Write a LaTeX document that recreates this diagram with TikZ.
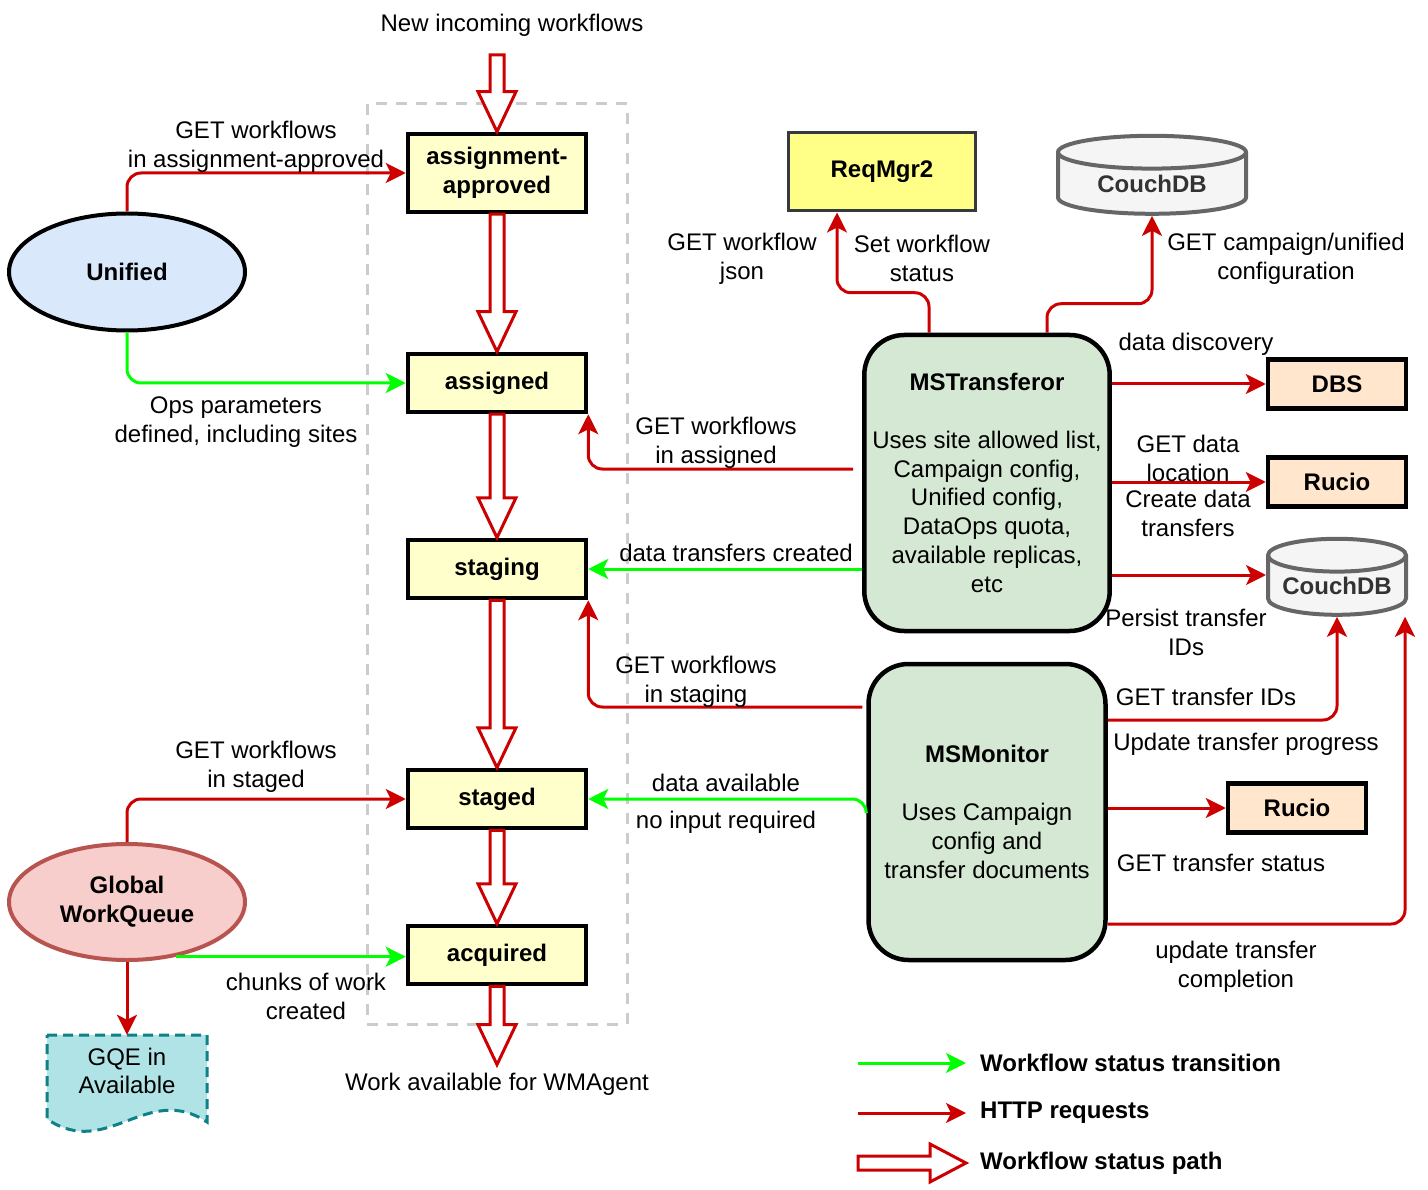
\documentclass[tikz,border=0pt]{standalone}
\usepackage{fontspec}
\setmainfont{Liberation Sans}
\usetikzlibrary{calc}
\usetikzlibrary{arrows.meta}
\usetikzlibrary{shapes.geometric}
\tikzset{>={Stealth[length=20pt,width=20pt,inset=5pt]}}

\definecolor{httpred}{HTML}{CC0000}
\definecolor{transgreen}{HTML}{00FF00}
\definecolor{stateyellow}{HTML}{FFFFCC}
\definecolor{reqyellow}{HTML}{FFFF88}
\definecolor{reqgray}{HTML}{36393D}
\definecolor{unifiedblue}{HTML}{DAE8FC}
\definecolor{gwqfill}{HTML}{F8CECC}
\definecolor{gwqdraw}{HTML}{B85450}
\definecolor{msgreen}{HTML}{D5E8D4}
\definecolor{servorange}{HTML}{FFE6CC}
\definecolor{couchfill}{HTML}{F5F5F5}
\definecolor{couchgray}{HTML}{666666}
\definecolor{couchtext}{HTML}{333333}
\definecolor{gqefill}{HTML}{B0E3E6}
\definecolor{gqedraw}{HTML}{0E8088}

\tikzstyle{state}=[draw,line width=4.5pt,fill=stateyellow,minimum width=178pt,minimum height=58pt,inner sep=0pt,align=center,font=\bfseries]
\tikzstyle{http}=[->,httpred,line width=3pt,rounded corners=14pt]
\tikzstyle{trans}=[->,transgreen,line width=3pt,rounded corners=14pt]
\tikzstyle{statuspath}=[httpred,line width=3pt,fill=white]
\tikzstyle{msbox}=[draw,line width=4.5pt,fill=msgreen,rounded corners=40pt,minimum width=237pt,minimum height=296pt,align=center]
\tikzstyle{service}=[draw,line width=4.5pt,fill=servorange,minimum width=138pt,minimum height=49pt,font=\bfseries]
\tikzstyle{couch}=[cylinder,shape border rotate=90,aspect=0.3,draw=couchgray,line width=4pt,fill=couchfill,text=couchtext,font=\bfseries,inner sep=0pt]
\tikzstyle{lbl}=[align=center,yshift=-2.5pt]
\tikzstyle{legend}=[anchor=west,font=\bfseries]

% fat status arrows, down and to the right
\newcommand{\statusdown}[2]{%
  \draw[statuspath] let \p1=(#1), \p2=(#2) in
    (\x1-7pt,\y1) -- (\x1-7pt,\y2+40pt) -- (\x1-19pt,\y2+40pt) -- (\x1,\y2)
    -- (\x1+19pt,\y2+40pt) -- (\x1+7pt,\y2+40pt) -- (\x1+7pt,\y1) -- cycle;}
\newcommand{\statusright}[2]{%
  \draw[statuspath] let \p1=(#1), \p2=(#2) in
    (\x1,\y1-7pt) -- (\x2-36pt,\y1-7pt) -- (\x2-36pt,\y1-19pt) -- (\x2,\y1)
    -- (\x2-36pt,\y1+19pt) -- (\x2-36pt,\y1+7pt) -- (\x1,\y1+7pt) -- cycle;}

\begin{document}
\fontsize{24}{28.8}\selectfont
\begin{tikzpicture}[x=1pt,y=-1pt]

  \useasboundingbox (0,0) rectangle (1428,1190);

  % workflow states
  \draw[gray!40,line width=3pt,dash pattern=on 11pt off 9pt]
    (367,104) rectangle (627,1024);
  \node[state,minimum height=78pt] (aa) at (497,173) {assignment-\\approved};
  \node[state] (as) at (497,383) {assigned};
  \node[state] (stg) at (497,569) {staging};
  \node[state] (std) at (497,799) {staged};
  \node[state] (acq) at (497,955) {acquired};

  \node[lbl] (incomingtext) at (512,23) {New incoming workflows};
  \node (wagent) at (497,1084) {Work available for WMAgent};
  \coordinate (incoming) at (497,55);

  % status path
  \statusdown{incoming}{aa.north}
  \statusdown{aa.south}{as.north}
  \statusdown{as.south}{stg.north}
  \statusdown{stg.south}{std.north}
  \statusdown{std.south}{acq.north}
  \statusdown{acq.south}{wagent.north}

  % Unified
  \node[ellipse,draw,line width=4pt,fill=unifiedblue,minimum width=236pt,minimum height=117pt,font=\bfseries]
    (un) at (127,272) {Unified};
  \draw[http] (un.north) |- (aa.west);
  \draw[trans] (un.south) |- (as.west);
  \node[lbl] (lblaa) at (256,144) {GET workflows\\in assignment-approved};
  \node[lbl] (lblops) at (236,420) {Ops parameters\\defined, including sites};

  % Global WorkQueue
  \node[ellipse,draw=gwqdraw,line width=4pt,fill=gwqfill,minimum width=236pt,minimum height=116pt,align=center,font=\bfseries]
    (gwq) at (127,902) {Global\\WorkQueue};
  \fill[gqefill] (47,1035) -- (207,1035) -- (207,1122)
    .. controls (147,1082) and (107,1160) .. (47,1119) -- cycle;
  \draw[gqedraw,line width=3pt,dash pattern=on 10pt off 6pt] (47,1035) -- (207,1035) -- (207,1122)
    .. controls (147,1082) and (107,1160) .. (47,1119) -- cycle;
  \node[align=center,minimum width=160pt,minimum height=72pt] (gqe) at (127,1071) {GQE in\\Available};
  \draw[http] (gwq.north) |- (std.west);
  \draw[trans] (gwq.-48) -- (gwq.-48 -| acq.west);
  \draw[http] (gwq.south) -- (gqe.north);
  \node[lbl] (lblstd) at (256,764) {GET workflows\\in staged};
  \node[lbl] (lblchunks) at (306,994) {chunks of work\\created};

  % MSTransferor
  \node[msbox] (mst) at (987,483)
    {\textbf{MSTransferor}\\ \\Uses site allowed list,\\Campaign config,\\Unified config,\\DataOps quota,\\available replicas,\\etc};
  \node[draw=reqgray,line width=3pt,fill=reqyellow,minimum width=187pt,minimum height=78pt,font=\bfseries]
    (rm) at (882,172) {ReqMgr2};
  \node[couch,minimum width=188pt,minimum height=78pt] (cdbtop) at (1152,184) {CouchDB};
  \node[service] (dbs) at (1337,384) {DBS};
  \node[service] (rutr) at (1337,482) {Rucio};
  \node[couch,minimum width=138pt,minimum height=76pt] (cdb) at (1337,586) {CouchDB};

  \draw[http] ([xshift=-58pt]mst.north) -- ++(0,-40) -| ([xshift=-45pt]rm.south);
  \draw[http] ([xshift=60pt]mst.north) -- ++(0,-29) -| (cdbtop.south);
  \draw[http] (dbs.west -| mst.east) -- (dbs.west);
  \draw[http] (rutr.west -| mst.east) -- (rutr.west);
  \draw[http] ([yshift=11pt]cdb.center -| mst.east) -- ([yshift=11pt]cdb.center -| cdb.west);
  \draw[http] ([xshift=-9pt,yshift=14pt]mst.west) -| (as.south east);
  \draw[trans] (stg.east -| mst.west) -- (stg.east);

  \node[lbl] (lbljson) at (742,256) {GET workflow\\json};
  \node[lbl] (lblset) at (922,256) {Set workflow\\status};
  \node[lbl] (lblcamp) at (1286,256) {GET campaign/unified\\configuration};
  \node[lbl] (lbldisc) at (1196,342) {data discovery};
  \node[lbl] (lblloc) at (1188,456) {GET data\\location};
  \node[lbl] (lblcreate) at (1188,511) {Create data\\transfers};
  \node[lbl] (lblpersist) at (1186,630) {Persist transfer\\IDs};
  \node[lbl] (lblasg) at (716,440) {GET workflows\\in assigned};
  \node[lbl] (lbltrcr) at (736,550) {data transfers created};

  % MSMonitor
  \node[msbox] (mon) at (987,812)
    {\textbf{MSMonitor}\\ \\Uses Campaign\\config and\\transfer documents};
  \node[service] (rumon) at (1297,808) {Rucio};

  \draw[http] ([xshift=-4pt,yshift=105pt]mon.west) -| (stg.south east);
  \draw[trans] (mon.west) |- (std.east);
  \draw[http] ([yshift=92pt]mon.east) -| (cdb.south);
  \draw[http] (rumon.west -| mon.east) -- (rumon.west);
  \draw[http] ([yshift=-112pt]mon.east) -| ([xshift=-3pt]cdb.east |- cdb.south);

  \node[lbl] (lblstg) at (696,679) {GET workflows\\in staging};
  \node[lbl] (lblavail) at (726,780) {data available};
  \node[lbl] (lblnoin) at (726,820) {no input required};
  \node[lbl] (lbltid) at (1206,694) {GET transfer IDs};
  \node[lbl] (lblupd) at (1246,742) {Update transfer progress};
  \node[lbl] (lbltst) at (1221,860) {GET transfer status};
  \node[lbl] (lblcomp) at (1236,964) {update transfer\\completion};

  % legend
  \coordinate (lgtrans) at (858,1063);
  \coordinate (lghttp) at (858,1113);
  \coordinate (lgpath) at (858,1163);
  \node[legend] (lgtranstext) at (972,1063) {Workflow status transition};
  \node[legend] (lghttptext) at (972,1113) {HTTP requests};
  \node[legend] (lgpathtext) at (972,1163) {Workflow status path};
  \draw[trans] (lgtrans) -- ([xshift=-6pt]lgtranstext.west);
  \draw[http] (lghttp) -- ([xshift=-6pt]lghttptext.west);
  \statusright{lgpath}{[xshift=-6pt]lgpathtext.west}

\end{tikzpicture}
\end{document}
